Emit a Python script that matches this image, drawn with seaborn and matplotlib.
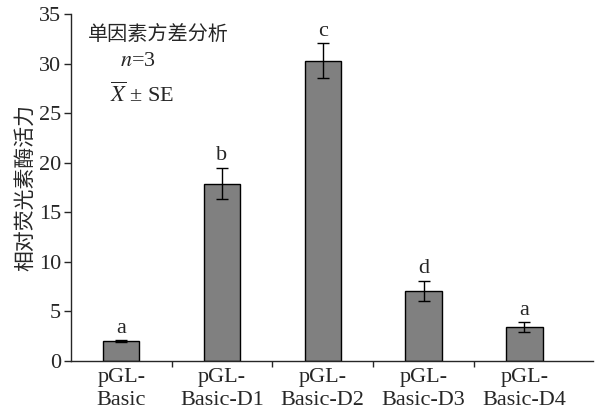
import matplotlib
matplotlib.use("Agg")
import matplotlib.pyplot as plt
import seaborn as sns
import pandas as pd
import numpy as np

categories = ["pGL-\nBasic", "pGL-\nBasic-D1", "pGL-\nBasic-D2", "pGL-\nBasic-D3", "pGL-\nBasic-D4"]
means = [2.0, 17.9, 30.3, 7.1, 3.4]
errors = [0.12, 1.6, 1.75, 1.0, 0.5]
letters = ["a", "b", "c", "d", "a"]
y_ticks = [0, 5, 10, 15, 20, 25, 30, 35]

sns.set_style("ticks")
plt.rcParams['font.family'] = ['Liberation Serif', 'Noto Sans CJK SC']
plt.rcParams['mathtext.fontset'] = 'stix'

df = pd.DataFrame({"cat": categories, "val": means})

fig = plt.figure(figsize=(6.05, 4.15), dpi=100)
ax = fig.add_axes([0.117, 0.130, 0.863, 0.836])
sns.barplot(data=df, x="cat", y="val", color="#808080", edgecolor="black",
            linewidth=1.0, width=0.36, errorbar=None, ax=ax, saturation=1)
xpos = np.arange(len(categories))
ax.errorbar(xpos, means, yerr=errors, fmt="none", ecolor="black",
            elinewidth=1.0, capsize=4, capthick=1.0)
for x, m, e, l in zip(xpos, means, errors, letters):
    ax.text(x, m + e + 0.25, l, ha="center", va="bottom", fontsize=16)

ax.set_ylim(0, 35)
ax.set_xlim(-0.5, 4.68)
ax.set_yticks(y_ticks)
ax.set_yticklabels([str(v) for v in y_ticks], fontsize=16)
ax.set_xticks(xpos)
ax.set_xticklabels(categories, fontsize=16, linespacing=1.3)
ax.tick_params(axis="x", length=0, pad=5)
ax.set_xticks(xpos[:-1] + 0.5, minor=True)
ax.tick_params(axis="x", which="minor", length=4, direction="out", width=1)
ax.tick_params(axis="y", length=5, direction="out", width=1, pad=2)
ax.set_xlabel("")
ax.set_ylabel("相对荧光素酶活力", fontsize=15, family=['Noto Sans CJK SC'], labelpad=2)
for s in ["top", "right"]:
    ax.spines[s].set_visible(False)
for s in ["left", "bottom"]:
    ax.spines[s].set_linewidth(1.0)

ax.text(0.033, 0.94, "单因素方差分析", transform=ax.transAxes, fontsize=14.5,
        family=['Noto Sans CJK SC'], va="center")
ax.text(0.094, 0.862, r"$n$=3", transform=ax.transAxes, fontsize=16, va="center")
ax.text(0.075, 0.767, r"$\overline{X}$ ± SE", transform=ax.transAxes, fontsize=16, va="center")

fig.savefig("out.png", dpi=100)
